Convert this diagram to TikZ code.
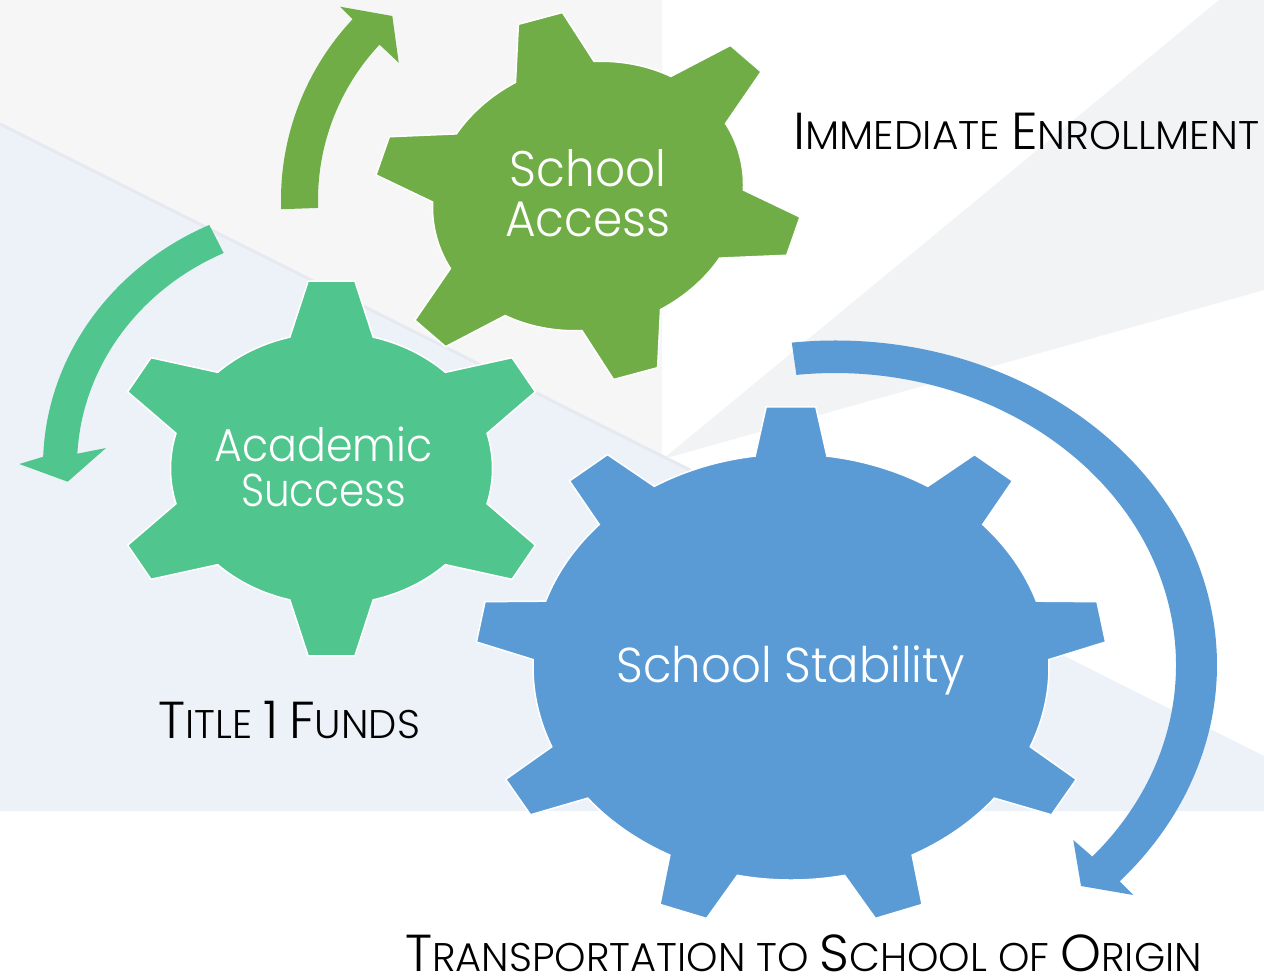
\documentclass[tikz,border=0pt]{standalone}
\usepackage{fontspec}
\setmainfont{Poppins Light}
\usetikzlibrary{calc}
\definecolor{bgGrey}{HTML}{F6F6F6}
\definecolor{bgWedge}{HTML}{F2F3F5}
\definecolor{bgBlue}{HTML}{EDF2F9}
\definecolor{bgEdge}{HTML}{E6EAF0}
\definecolor{cGreen}{HTML}{70AD47}
\definecolor{cTeal}{HTML}{50C58E}
\definecolor{cBlue}{HTML}{5B9BD5}
\newcommand\bigc[1]{{\fontsize{52}{52}\selectfont #1}}
\newcommand\smc[1]{{\fontsize{40}{40}\selectfont #1}}
\tikzset{
  gearline/.style={draw=white, line width=1.5pt, line join=miter},
  gtxt/.style={text=white, align=center, inner sep=0pt, text depth=0pt},
  lbl/.style={text=black, inner sep=0pt, anchor=base west, font=\fontsize{40}{40}\selectfont},
}
% #1 fill, #2 centre, #3 rotation, #4 teeth, #5 x radius, #6 y radius, #7 tip factor, #8 base half-angle, #9 tip half-angle
\newcommand\geardraw[9]{%
  \begin{scope}[shift={#2}, rotate=#3]
    \pgfmathsetmacro\gd{360/#4}
    \pgfmathtruncatemacro\gn{#4-1}
    \pgfmathsetmacro\gta{#7*#5}
    \pgfmathsetmacro\gtb{#7*#6}
    \filldraw[gearline, fill=#1] ({#5*cos(90-#8)},{#6*sin(90-#8)})
      \foreach \k in {0,...,\gn}{
        -- ({\gta*cos(90+\k*\gd-#9)},{\gtb*sin(90+\k*\gd-#9)})
        -- ({\gta*cos(90+\k*\gd+#9)},{\gtb*sin(90+\k*\gd+#9)})
        -- ({#5*cos(90+\k*\gd+#8)},{#6*sin(90+\k*\gd+#8)})
        arc[start angle={90+\k*\gd+#8}, end angle={90+(\k+1)*\gd-#8}, x radius=#5, y radius=#6]
      } -- cycle;
  \end{scope}}
\begin{document}
\begin{tikzpicture}[x=1pt,y=1pt]
\useasboundingbox (0,0) rectangle (1264,-978);
% background
\fill[white] (0,0) rectangle (1264,-978);
\fill[bgGrey] (0,0) -- (662,0) -- (662,-456) -- (0,-123) -- cycle;
\fill[bgWedge] (663,-459) -- (1219,0) -- (1264,0) -- (1264,-290) -- cycle;
\fill[bgBlue] (0,-123) -- (1264,-756) -- (1264,-811) -- (0,-811) -- cycle;
\draw[bgEdge, line width=3pt] (0,-124) -- (690,-470);
% arrows
\coordinate (gac) at (545,-200);
\coordinate (gab1) at (340,-6.7);
\coordinate (gat) at (392.3,-16);
\coordinate (gab2) at (398.7,-62.7);
\fill[cGreen] ($(gac)+(182:264)$) arc[start angle=182, end angle=136.8, radius=264]
  -- (gab1) -- (gat) -- (gab2) -- ($(gac)+(136.8:227)$)
  arc[start angle=136.8, end angle=182, radius=227] -- cycle;
\coordinate (tac) at (331,-466);
\coordinate (tab1) at (19.3,-464);
\coordinate (tat) at (67.7,-481.7);
\coordinate (tab2) at (106,-448);
\fill[cTeal] ($(tac)+(115:288 and 266)$) arc[start angle=115, end angle=178, x radius=288, y radius=266]
  -- (tab1) -- (tat) -- (tab2) -- ($(tac)+(177:254 and 235)$)
  arc[start angle=177, end angle=115, x radius=254, y radius=235] -- cycle;
\coordinate (bac) at (835,-665);
\coordinate (bab1) at (1133.3,-895);
\coordinate (bat) at (1081,-886);
\coordinate (bab2) at (1073.3,-840);
\fill[cBlue] ($(bac)+(96.5:382 and 324.5)$) arc[start angle=96.5, end angle=-41.8, x radius=382, y radius=324.5]
  -- (bab1) -- (bat) -- (bab2) -- ($(bac)+(-41:341 and 292)$)
  arc[start angle=-41, end angle=96.5, x radius=341, y radius=292] -- cycle;
% gears
\geardraw{cGreen}{(588,-196)}{15}{6}{157}{133}{1.39}{15}{6}
\geardraw{cTeal}{(331.5,-468.5)}{0}{6}{161}{136}{1.386}{15}{6}
\geardraw{cBlue}{(791,-667)}{0}{9}{258}{213}{1.225}{8}{4.5}
% gear texts
\node[gtxt, anchor=south, font=\fontsize{50}{50}\selectfont] (sa) at (588,-237) {\scalebox{0.94}[1]{School}\\\scalebox{0.94}[1]{Access}};
\node[gtxt, anchor=south, font=\fontsize{46}{45}\selectfont] (as) at (323.5,-507) {\scalebox{0.93}[1]{Academic}\\\scalebox{0.88}[1]{Success}};
\node[gtxt, anchor=base, font=\fontsize{49}{49}\selectfont] (ss) at (790.5,-682) {\scalebox{0.95}[1]{School Stability}};
% labels
\node[lbl] (ie) at (793,-149) {\scalebox{1.015}[1]{\bigc{I}\smc{MMEDIATE} \bigc{E}\smc{NROLLMENT}}};
\node[lbl] (tf) at (158,-738) {\bigc{T}\smc{ITLE} \bigc{1} \bigc{F}\smc{UNDS}};
\node[lbl] (ts) at (405,-971) {\bigc{T}\smc{RANSPORTATION TO} \bigc{S}\smc{CHOOL OF} \bigc{O}\smc{RIGIN}};
\end{tikzpicture}
\end{document}
